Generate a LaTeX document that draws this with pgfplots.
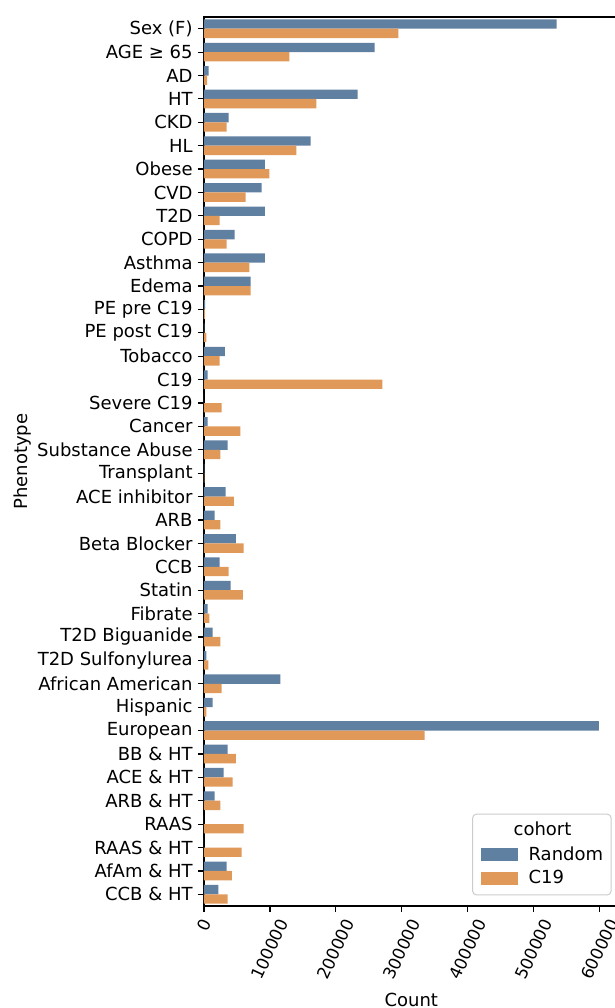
\documentclass[border=0pt]{standalone}
\usepackage{fontspec}
\setmainfont{DejaVu Sans}
\usepackage{graphicx}
\usepackage{pgfplots}
\pgfplotsset{compat=1.18}
\usepackage{pgfplotstable}

\definecolor{rnd}{HTML}{5F80A1}
\definecolor{cov}{HTML}{E1995A}

% counts per phenotype, random cohort
\pgfplotstableread{
idx val
0 535000
1 258700
2 7100
3 233100
4 37500
5 161700
6 92200
7 87400
8 92200
9 46400
10 92200
11 70800
12 1800
13 500
14 31500
15 5400
16 0
17 5400
18 35700
19 500
20 32700
21 16100
22 48200
23 23800
24 40400
25 5400
26 13100
27 3600
28 115900
29 13100
30 599000
31 35700
32 29700
33 16100
34 0
35 0
36 34500
37 22000
}\randomtab

% counts per phenotype, C19 cohort
\pgfplotstableread{
idx val
0 295000
1 129600
2 4800
3 170600
4 34500
5 140300
6 99300
7 63000
8 23800
9 34500
10 69000
11 70800
12 1500
13 3600
14 23800
15 270500
16 26800
17 55300
18 25000
19 500
20 45200
21 25000
22 60100
23 37500
24 58900
25 8300
26 25000
27 6500
28 26800
29 3600
30 334800
31 48200
32 43400
33 25000
34 60100
35 57100
36 42200
37 35700
}\covtab

\begin{document}
\begin{tikzpicture}[font=\fontsize{9}{11}\selectfont]
\begin{axis}[
  at={(0,0)}, anchor=south west,
  scale only axis,
  width=207.3pt, height=444.5pt,
  xmin=0, xmax=629000,
  ymin=-0.5, ymax=37.5,
  y dir=reverse,
  xbar,
  bar width=0.4,
  ytick={0,...,37},
  yticklabels={Sex (F), AGE ≥ 65, AD, HT, CKD, HL, Obese, CVD, T2D, COPD,
    Asthma, Edema, PE pre C19, PE post C19, Tobacco, C19, Severe C19, Cancer,
    Substance Abuse, Transplant, ACE inhibitor, ARB, Beta Blocker, CCB, Statin,
    Fibrate, T2D Biguanide, T2D Sulfonylurea, African American, Hispanic,
    European, BB \& HT, ACE \& HT, ARB \& HT, RAAS, RAAS \& HT, AfAm \& HT,
    CCB \& HT},
  xtick={0,100000,...,600000},
  xtick pos=bottom, ytick pos=left,
  scaled x ticks=false,
  /pgf/number format/assume math mode=true,
  xticklabel={\rotatebox{65}{\pgfmathprintnumber[fixed,precision=0,1000 sep={}]{\tick}}},
  xticklabel style={anchor=north, inner sep=0pt, yshift=-2.5pt,
    font=\fontsize{8.4}{10}\selectfont},
  yticklabel style={anchor=east, inner sep=0pt, xshift=-2.5pt},
  tick align=outside,
  major tick length=3pt,
  major tick style={black, line width=0.6pt},
  axis line style={line width=0.7pt},
  every axis plot/.append style={draw=none},
  xlabel={Count},
  ylabel={Phenotype},
  xlabel style={inner sep=0pt, yshift=-6pt},
  ylabel style={inner sep=0pt, yshift=3pt},
  legend style={
    at={(rel axis cs:0.982,0.0124)}, anchor=south east,
    draw=black!20, line width=0.5pt, rounded corners=2pt,
    fill=white, fill opacity=0.8, text opacity=1,
    inner xsep=4pt, inner ysep=3pt, outer sep=0pt,
    row sep=1.8pt,
    nodes={inner xsep=0pt, inner ysep=1pt},
  },
  legend cell align=left,
  legend image code/.code={%
    \fill[#1, fill opacity=1, sharp corners] (0pt,-3.2pt) rectangle (18.5pt,3.2pt);
    \path (24pt,0pt);},
]
\addlegendimage{empty legend}
\addlegendentry{\hspace*{-7.5pt}cohort}
\addplot[fill=rnd, bar shift=-0.2] table[x=val, y=idx] {\randomtab};
\addlegendentry{Random}
\addplot[fill=cov, bar shift=0.2] table[x=val, y=idx] {\covtab};
\addlegendentry{C19}
\end{axis}
\pgfresetboundingbox
\useasboundingbox (-102pt,-51pt) rectangle (205.5pt,453pt);
\end{tikzpicture}
\end{document}
